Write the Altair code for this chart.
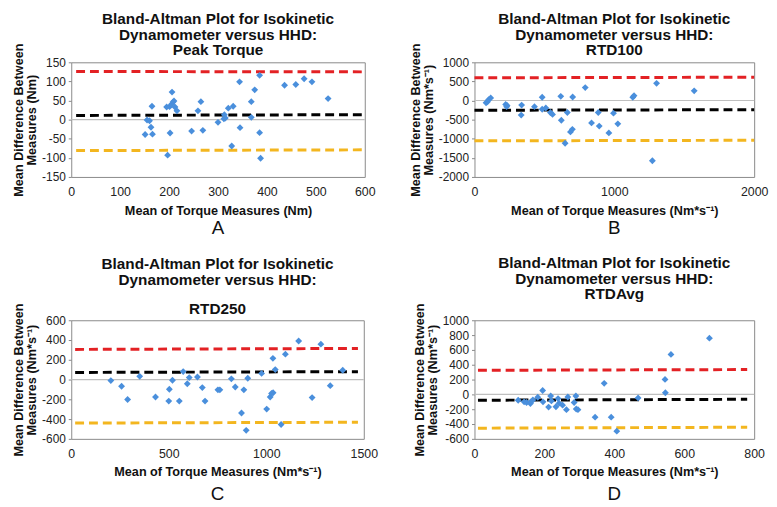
import altair as alt
import pandas as pd

FONT = "Liberation Sans"

# ---------------- Panel A: Peak Torque ----------------
a_x = [151, 155, 160, 163, 165, 166, 195, 197, 202, 201, 205, 206, 208, 210, 212, 216,
       246, 259, 265, 269, 300, 312, 313, 315, 321, 328, 331, 344, 345, 368, 368, 375,
       385, 385, 387, 436, 459, 476, 492, 525]
a_y = [-39, -1, -3, -20, 35, -38, 33, -93, -35, 34, 40, 72, 46, 49, 33, 23,
       -30, 23, 47, -28, -7, 2, 13, 4, 30, -69, 35, 99, -21, 47, 6, 78,
       116, -34, -101, 90, 92, 107, 99, 55]
a_line_x = [10, 600]
a_upper = [126, 125]
a_mean = [11, 13]
a_lower = [-81, -79]

# ---------------- Panel B: RTD100 ----------------
b_x = [83, 93, 102, 116, 223, 230, 233, 337, 334, 429, 484, 484, 510, 543, 558, 617,
       621, 648, 664, 686, 700, 702, 792, 837, 885, 892, 961, 994, 1025, 1132, 1141,
       1272, 1302, 1571]
b_y = [-59, -34, 25, 68, -102, -161, -130, -119, -381, -161, 85, -229, -195, -314, -364, 110,
       -517, -1119, -314, -822, -754, 93, 339, -585, -314, -669, -847, -330, -610, 85, 127,
       -1576, 449, 254]
b_line_x = [0, 2000]
b_upper = [595, 610]
b_mean = [-255, -240]
b_lower = [-1055, -1040]

# ---------------- Panel C: RTD250 ----------------
c_x = [203, 258, 289, 351, 432, 500, 503, 519, 554, 574, 595, 605, 647, 672, 686, 752,
       762, 821, 841, 873, 885, 897, 905, 976, 1002, 1020, 1027, 1034, 1035, 1046, 1076,
       1098, 1166, 1235, 1280, 1328, 1392]
c_y = [-10, -68, -202, 33, -176, -218, -98, -7, -218, 81, -42, 20, 26, -81, -218, -104,
       -104, 7, -75, -338, -104, -514, 13, 62, -299, -176, -140, 215, -133, 101, -455,
       257, 390, -182, 358, -62, 94]
c_line_x = [20, 1470]
c_upper = [305, 315]
c_mean = [72, 80]
c_lower = [-440, -432]

# ---------------- Panel D: RTDAvg ----------------
d_x = [125, 142, 149, 160, 161, 167, 181, 195, 196, 212, 218, 220, 233, 239, 242, 252,
       263, 267, 285, 290, 291, 296, 345, 371, 391, 407, 468, 545, 546, 562, 672]
d_y = [-79, -101, -110, -123, -101, -75, -39, 53, -101, -171, -22, -88, -167, -57, -118, -145,
       -206, -35, -110, -22, -197, -206, -307, 149, -307, -496, -48, 202, 22, 539, 759]
d_line_x = [10, 780]
d_upper = [325, 335]
d_mean = [-79, -66]
d_lower = [-456, -443]

LINE_NAMES = ["upper", "mean", "lower"]
LINE_COLORS = ["#e32124", "#000000", "#f3b61f"]


def lines_frame(lx, upper, mean, lower):
    rows = []
    for name, vals in zip(LINE_NAMES, [upper, mean, lower]):
        for xv, yv in zip(lx, vals):
            rows.append({"x": xv, "y": yv, "line": name})
    return pd.DataFrame(rows)


def panel(xs, ys, lines_df, xdom, xticks, ydom, yticks, title, xtitle, ytitle,
          letter, w, h, letter_dy, title_params):
    xsc = alt.Scale(domain=xdom, nice=False, zero=False)
    ysc = alt.Scale(domain=ydom, nice=False, zero=False)
    xax = alt.Axis(values=xticks, title=xtitle, ticks=False, tickSize=0, labelFlush=False,
                   labelPadding=9, titlePadding=6, labelExpr="toString(datum.value)",
                   domain=False, grid=False, labelFontSize=12.5, titleFontSize=12.8)
    yax = alt.Axis(values=yticks, title=ytitle, ticks=True, tickSize=3, labelFlush=False,
                   labelPadding=3, titlePadding=3, labelExpr="toString(datum.value)",
                   domain=False, grid=False, labelFontSize=12, titleFontSize=12.8)

    def X():
        return alt.X("x:Q", scale=xsc, axis=xax)

    def Y():
        return alt.Y("y:Q", scale=ysc, axis=yax)

    zero = alt.Chart(pd.DataFrame({"y": [0]})).mark_rule(
        color="#bfbfbf", strokeWidth=1.2).encode(y=Y())
    lines = alt.Chart(lines_df).mark_line(strokeWidth=3, strokeDash=[9, 5]).encode(
        x=X(), y=Y(),
        color=alt.Color("line:N", scale=alt.Scale(domain=LINE_NAMES, range=LINE_COLORS),
                        legend=None),
        detail="line:N")
    pts = alt.Chart(pd.DataFrame({"x": xs, "y": ys})).mark_point(
        shape="diamond", filled=True, size=48, color="#4a8fdc", opacity=1).encode(
        x=X(), y=Y())
    lab = alt.Chart(pd.DataFrame({"t": [letter]})).mark_text(
        fontSize=19, font=FONT, baseline="alphabetic", align="center", color="#111111").encode(
        x=alt.value(w / 2), y=alt.value(h + letter_dy), text="t:N")
    return alt.layer(zero, lines, pts, lab).properties(
        width=w, height=h,
        title=alt.TitleParams(title, anchor="middle", **title_params))


T1 = "Bland-Altman Plot for Isokinetic"
T2 = "Dynamometer versus HHD:"
YT_NM = ["Mean Difference Between", "Measures (Nm)"]
YT_S = ["Mean Difference Between", "Measures (Nm*s\u207b\u00b9)"]
XT_S = "Mean of Torque Measures (Nm*s\u207b\u00b9)"

A = panel(a_x, a_y, lines_frame(a_line_x, a_upper, a_mean, a_lower),
          [0, 600], [0, 100, 200, 300, 400, 500, 600],
          [-150, 150], [-150, -100, -50, 0, 50, 100, 150],
          [T1, T2, "Peak Torque"], "Mean of Torque Measures (Nm)", YT_NM, "A", 297, 116, 58,
          dict(offset=-16, lineHeight=16))
B = panel(b_x, b_y, lines_frame(b_line_x, b_upper, b_mean, b_lower),
          [0, 2000], [0, 1000, 2000],
          [-2000, 1000], [-2000, -1500, -1000, -500, 0, 500, 1000],
          [T1, T2, "RTD100"], XT_S, YT_S, "B", 283, 116, 58,
          dict(offset=-16, lineHeight=16))
C = panel(c_x, c_y, lines_frame(c_line_x, c_upper, c_mean, c_lower),
          [0, 1500], [0, 500, 1000, 1500],
          [-600, 600], [-600, -400, -200, 0, 200, 400, 600],
          [T1, T2], XT_S, YT_S, "C", 296, 120, 62,
          dict(offset=-15, lineHeight=16, subtitle="RTD250", subtitleFont=FONT,
               subtitleFontSize=15.5, subtitleFontWeight="bold", subtitleColor="#111111",
               subtitlePadding=14))
D = panel(d_x, d_y, lines_frame(d_line_x, d_upper, d_mean, d_lower),
          [0, 800], [0, 200, 400, 600, 800],
          [-600, 1000], [-600, -400, -200, 0, 200, 400, 600, 800, 1000],
          [T1, T2, "RTDAvg"], XT_S, YT_S, "D", 283, 120, 62,
          dict(offset=0, lineHeight=16))

chart = alt.concat(A, B, C, D, columns=2, spacing={"row": 145, "column": 111},
                   bounds="flush").properties(
    padding={"left": 4, "top": 0, "right": 0, "bottom": 0}
).configure_view(
    stroke="#8a8a8a", strokeWidth=1
).configure_axis(
    labelFont=FONT, titleFont=FONT, labelColor="#222222", titleColor="#111111",
    titleFontWeight="bold", tickColor="#8a8a8a", titleLineHeight=13
).configure_title(
    font=FONT, fontSize=15.5, fontWeight="bold", color="#111111"
)

chart.save("out.html", embed_options={"renderer": "svg", "actions": False})
